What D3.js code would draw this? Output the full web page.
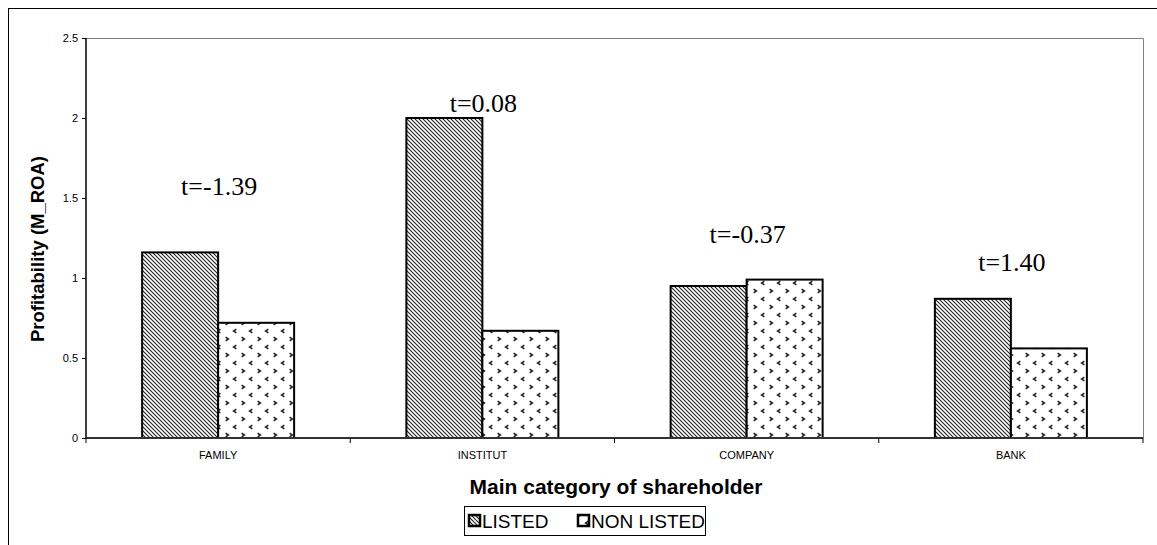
<!DOCTYPE html>
<html><head><meta charset="utf-8">
<script src="https://cdn.jsdelivr.net/npm/d3@7"></script>
<style>body{margin:0;background:#fff}svg{display:block}</style>
</head><body><svg id="c" width="1157" height="545"></svg>
<script>
const categories = ["FAMILY", "INSTITUT", "COMPANY", "BANK"];
const series = ["LISTED", "NON LISTED"];
const listed = [1.16, 2.0, 0.95, 0.87];
const nonListed = [0.72, 0.67, 0.99, 0.56];
const tLabels = ["t=-1.39", "t=0.08", "t=-0.37", "t=1.40"];
const tLabelY = [1.52, 2.04, 1.22, 1.045];
const yTicks = [0, 0.5, 1, 1.5, 2, 2.5];

const svg = d3.select("#c");
const m = {l: 86, t: 38, r: 1143, b: 438};

const defs = svg.append("defs");
const p1 = defs.append("pattern").attr("id", "diag").attr("patternUnits", "userSpaceOnUse")
  .attr("width", 4).attr("height", 4);
p1.append("rect").attr("width", 4).attr("height", 4).attr("fill", "#fff");
p1.append("path").attr("d", "M-1,-1 L5,5 M-1,3 L1,5 M3,-1 L5,1").attr("stroke", "#222").attr("stroke-width", 1.1);
const p2 = defs.append("pattern").attr("id", "dots").attr("patternUnits", "userSpaceOnUse")
  .attr("width", 16).attr("height", 16);
p2.append("rect").attr("width", 16).attr("height", 16).attr("fill", "#fff");
const chev = [[3,3,1],[11,11,-1]];
chev.forEach(([x,y,d]) => {
  p2.append("path").attr("d", `M${x - d * 1.4},${y - 1.8} L${x + d * 1.4},${y} L${x - d * 1.4},${y + 1.8}`)
    .attr("fill", "none").attr("stroke", "#222").attr("stroke-width", 1.5);
});

// outer frame
svg.append("rect").attr("x", 8.5).attr("y", 8.5).attr("width", 1160).attr("height", 560)
  .attr("fill", "none").attr("stroke", "#000").attr("stroke-width", 1);

const x0 = d3.scaleBand().domain(categories).range([m.l, m.r]).paddingInner(0).paddingOuter(0);
const barW = 76;
const y = d3.scaleLinear().domain([0, 2.5]).range([m.b, m.t]);

// plot area border top/right
svg.append("path").attr("d", `M${m.l},${m.t + 0.5} H${m.r + 0.5} V${m.b}`)
  .attr("fill", "none").attr("stroke", "#808080").attr("stroke-width", 1);

const data = categories.map((c, i) => ({c, v: [listed[i], nonListed[i]]}));
const g = svg.append("g");
data.forEach(d => {
  const cx = x0(d.c) + x0.bandwidth() / 2;
  d.v.forEach((v, j) => {
    g.append("rect")
      .attr("x", cx - barW + j * barW).attr("y", y(v))
      .attr("width", barW).attr("height", y(0) - y(v))
      .attr("fill", j === 0 ? "url(#diag)" : "url(#dots)")
      .attr("stroke", "#000").attr("stroke-width", 2);
  });
});

// y axis
const ya = svg.append("g").attr("transform", `translate(${m.l},0)`)
  .call(d3.axisLeft(y).tickValues(yTicks).tickSize(4).tickPadding(4).tickFormat(d => d));
ya.select(".domain").attr("stroke", "#000").attr("stroke-width", 1.5).attr("d", `M0,${m.t}V${m.b}`);
ya.selectAll("text").attr("font-family", "Liberation Sans, Arial, sans-serif").attr("font-size", 11).attr("fill", "#000");

// x axis
const xa = svg.append("g").attr("transform", `translate(0,${m.b})`)
  .call(d3.axisBottom(x0).tickSize(0).tickPadding(13));
xa.select(".domain").attr("stroke", "#333").attr("stroke-width", 2).attr("d", `M${m.l},0H${m.r}`);
xa.selectAll("text").attr("font-family", "Liberation Sans, Arial, sans-serif").attr("font-size", 11).attr("fill", "#000");
const bounds = categories.map(c => x0(c)).concat([m.r]);
xa.selectAll("line.b").data(bounds).enter().append("line").attr("class", "b")
  .attr("x1", d => d).attr("x2", d => d).attr("y1", 0).attr("y2", 5).attr("stroke", "#000");

// t labels
svg.selectAll("text.t").data(categories).enter().append("text").attr("class", "t")
  .attr("x", (c, i) => x0(c) + x0.bandwidth() / 2 + 1).attr("y", (c, i) => y(tLabelY[i]))
  .attr("text-anchor", "middle").attr("font-family", "Liberation Serif, Times New Roman, serif")
  .attr("font-size", 26).text((c, i) => tLabels[i]);

// titles
svg.append("text").attr("x", 616).attr("y", 494).attr("text-anchor", "middle")
  .attr("font-family", "Liberation Sans, Arial, sans-serif").attr("font-weight", "bold").attr("font-size", 21)
  .text("Main category of shareholder");
svg.append("text").attr("transform", "translate(44,249) rotate(-90)").attr("text-anchor", "middle")
  .attr("font-family", "Liberation Sans, Arial, sans-serif").attr("font-weight", "bold").attr("font-size", 18.5)
  .text("Profitability (M_ROA)");

// legend
const lg = svg.append("g");
lg.append("rect").attr("x", 464.5).attr("y", 506.5).attr("width", 241).attr("height", 29)
  .attr("fill", "#fff").attr("stroke", "#000");
const items = [{s: series[0], x: 469, f: "url(#diag)"}, {s: series[1], x: 578, f: "url(#dots)"}];
items.forEach(it => {
  lg.append("rect").attr("x", it.x).attr("y", 515).attr("width", 11).attr("height", 11)
    .attr("fill", it.f).attr("stroke", "#000").attr("stroke-width", 2.5);
  lg.append("text").attr("x", it.x + 13).attr("y", 528).attr("font-family", "Liberation Sans, Arial, sans-serif")
    .attr("font-size", 19).text(it.s);
});
</script></body></html>
